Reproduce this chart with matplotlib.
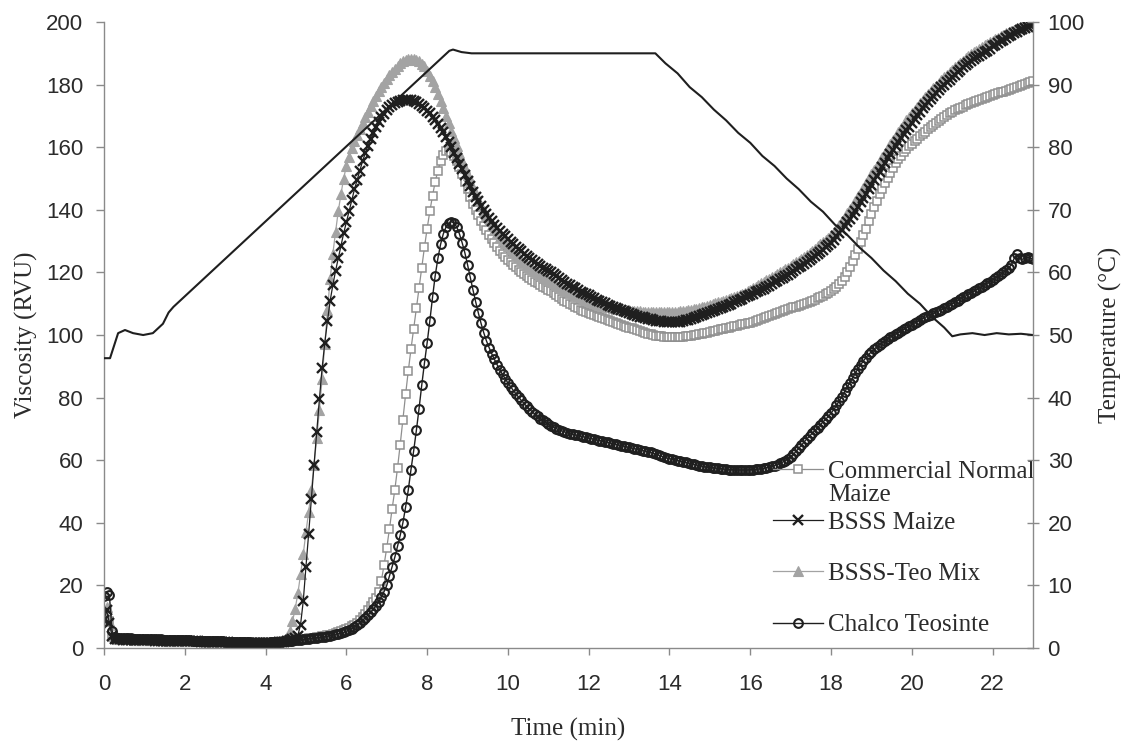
import numpy as np
import matplotlib

matplotlib.use("Agg")
import matplotlib.pyplot as plt  # noqa: E402

# RVA readings taken every 4 s over the 23 min run
time_min = np.arange(346) / 15.0

# one row per minute (15 readings), last value at 23 min
commercial = [
    10.0, 11.5, 8.5, 4.5, 3.2, 3.0, 3.0, 2.9, 2.9, 2.9, 2.8, 2.8, 2.8, 2.8, 2.7,
    2.7, 2.7, 2.7, 2.7, 2.6, 2.6, 2.6, 2.6, 2.6, 2.6, 2.5, 2.5, 2.5, 2.5, 2.5,
    2.5, 2.4, 2.4, 2.4, 2.4, 2.3, 2.3, 2.3, 2.2, 2.2, 2.2, 2.2, 2.1, 2.1, 2.1,
    2.0, 2.0, 2.0, 2.0, 1.9, 1.9, 1.9, 1.9, 1.8, 1.8, 1.8, 1.8, 1.8, 1.8, 1.8,
    1.8, 1.8, 1.9, 1.9, 1.9, 2.0, 2.0, 2.1, 2.2, 2.3, 2.4, 2.5, 2.6, 2.7, 2.8,
    3.0, 3.1, 3.2, 3.3, 3.5, 3.6, 3.8, 3.9, 4.1, 4.3, 4.5, 4.7, 5.0, 5.3, 5.6,
    6.0, 6.4, 6.9, 7.5, 8.1, 8.9, 9.8, 10.8, 12.0, 13.4, 14.8, 16.0, 17.8, 21.5, 26.5,
    32.0, 38.0, 44.5, 50.5, 57.5, 65.0, 73.0, 81.0, 88.5, 95.5, 102.0, 108.5, 115.0, 121.5, 128.0,
    134.0, 139.5, 144.5, 149.0, 152.5, 155.5, 157.5, 158.7, 159.0, 158.5, 157.3, 155.7, 153.7, 151.3, 148.8,
    146.5, 144.2, 142.0, 140.0, 138.2, 136.5, 134.9, 133.4, 132.0, 130.6, 129.3, 128.1, 127.0, 125.9, 124.9,
    124.0, 123.2, 122.4, 121.6, 120.9, 120.2, 119.5, 118.9, 118.3, 117.7, 117.1, 116.5, 116.0, 115.5, 115.0,
    114.5, 114.0, 113.4, 112.8, 112.2, 111.6, 111.0, 110.5, 110.0, 109.5, 109.0, 108.5, 108.1, 107.7, 107.3,
    106.9, 106.6, 106.3, 106.0, 105.7, 105.4, 105.1, 104.8, 104.5, 104.2, 103.9, 103.6, 103.3, 103.0, 102.7,
    102.4, 102.1, 101.8, 101.5, 101.2, 100.9, 100.6, 100.4, 100.2, 100.0, 99.8, 99.7, 99.6, 99.5, 99.4,
    99.4, 99.4, 99.4, 99.4, 99.5, 99.5, 99.6, 99.7, 99.8, 99.9, 100.0, 100.2, 100.4, 100.6, 100.8,
    101.0, 101.2, 101.4, 101.6, 101.8, 102.0, 102.2, 102.4, 102.6, 102.8, 103.0, 103.2, 103.4, 103.6, 103.8,
    104.0, 104.3, 104.6, 104.9, 105.2, 105.5, 105.8, 106.1, 106.4, 106.7, 107.0, 107.3, 107.6, 107.9, 108.2,
    108.5, 108.8, 109.1, 109.4, 109.7, 110.0, 110.3, 110.6, 110.9, 111.3, 111.7, 112.1, 112.5, 113.0, 113.5,
    114.0, 114.6, 115.3, 116.2, 117.3, 118.6, 120.1, 121.8, 123.6, 125.5, 127.5, 129.6, 131.8, 134.0, 136.3,
    138.6, 140.8, 142.9, 144.9, 146.8, 148.6, 150.3, 151.9, 153.4, 154.8, 156.1, 157.3, 158.4, 159.4, 160.3,
    161.1, 161.9, 162.7, 163.5, 164.3, 165.0, 165.7, 166.4, 167.1, 167.8, 168.4, 169.0, 169.6, 170.2, 170.8,
    171.3, 171.8, 172.2, 172.6, 173.0, 173.4, 173.8, 174.2, 174.5, 174.8, 175.1, 175.4, 175.7, 176.0, 176.3,
    176.6, 176.9, 177.2, 177.5, 177.8, 178.1, 178.4, 178.7, 179.0, 179.3, 179.6, 179.9, 180.2, 180.5, 180.8,
    181.2,
]

bsss_maize = [
    9.0, 12.0, 8.0, 3.8, 3.0, 2.8, 2.8, 2.7, 2.7, 2.7, 2.6, 2.6, 2.6, 2.6, 2.5,
    2.5, 2.5, 2.5, 2.5, 2.4, 2.4, 2.4, 2.4, 2.4, 2.3, 2.3, 2.3, 2.3, 2.3, 2.2,
    2.2, 2.2, 2.2, 2.1, 2.1, 2.1, 2.0, 2.0, 2.0, 2.0, 1.9, 1.9, 1.9, 1.8, 1.8,
    1.8, 1.8, 1.7, 1.7, 1.7, 1.6, 1.6, 1.6, 1.6, 1.5, 1.5, 1.5, 1.5, 1.5, 1.5,
    1.5, 1.5, 1.6, 1.6, 1.7, 1.8, 1.9, 2.0, 2.2, 2.5, 2.9, 3.3, 4.0, 7.5, 15.0,
    26.0, 36.5, 47.5, 58.5, 69.0, 79.5, 89.5, 97.5, 104.5, 111.0, 116.0, 120.5, 124.5, 128.5, 132.5,
    136.0, 139.5, 143.0, 146.5, 149.5, 152.5, 155.5, 158.0, 160.5, 162.5, 164.5, 166.5, 168.0, 169.5, 170.7,
    171.8, 172.7, 173.5, 174.1, 174.6, 174.9, 175.1, 175.2, 175.2, 175.0, 174.7, 174.3, 173.8, 173.2, 172.5,
    171.7, 170.8, 169.8, 168.7, 167.5, 166.2, 164.8, 163.3, 161.7, 160.0, 158.3, 156.5, 154.7, 152.9, 151.0,
    149.2, 147.5, 145.8, 144.2, 142.7, 141.3, 140.0, 138.7, 137.5, 136.4, 135.3, 134.3, 133.3, 132.4, 131.5,
    130.6, 129.8, 129.0, 128.2, 127.4, 126.7, 126.0, 125.3, 124.6, 123.9, 123.3, 122.7, 122.1, 121.5, 121.0,
    120.5, 120.0, 119.4, 118.8, 118.2, 117.6, 117.0, 116.4, 115.9, 115.4, 114.9, 114.4, 113.9, 113.5, 113.1,
    112.7, 112.2, 111.7, 111.3, 110.9, 110.5, 110.1, 109.7, 109.3, 108.9, 108.5, 108.2, 107.9, 107.6, 107.3,
    107.0, 106.7, 106.4, 106.1, 105.8, 105.6, 105.4, 105.2, 105.0, 104.8, 104.6, 104.5, 104.4, 104.3, 104.2,
    104.1, 104.1, 104.1, 104.2, 104.3, 104.5, 104.7, 104.9, 105.2, 105.5, 105.8, 106.1, 106.4, 106.7, 107.0,
    107.3, 107.6, 107.9, 108.2, 108.5, 108.8, 109.2, 109.6, 110.0, 110.4, 110.8, 111.2, 111.6, 112.0, 112.4,
    112.8, 113.2, 113.6, 114.0, 114.4, 114.8, 115.3, 115.8, 116.3, 116.8, 117.3, 117.8, 118.3, 118.8, 119.3,
    119.8, 120.4, 121.0, 121.6, 122.2, 122.8, 123.4, 124.0, 124.6, 125.2, 125.9, 126.6, 127.3, 128.0, 128.7,
    129.5, 130.5, 131.5, 132.6, 133.7, 134.8, 136.0, 137.2, 138.4, 139.7, 141.0, 142.4, 143.8, 145.2, 146.6,
    148.0, 149.4, 150.8, 152.2, 153.6, 155.0, 156.4, 157.8, 159.2, 160.5, 161.8, 163.0, 164.2, 165.4, 166.5,
    167.8, 169.0, 170.2, 171.3, 172.4, 173.5, 174.5, 175.5, 176.5, 177.4, 178.3, 179.2, 180.0, 180.8, 181.6,
    182.4, 183.2, 184.0, 184.8, 185.5, 186.2, 186.9, 187.5, 188.1, 188.7, 189.3, 189.8, 190.3, 190.8, 191.3,
    192.2, 192.8, 193.4, 193.9, 194.4, 194.9, 195.4, 195.9, 196.4, 196.9, 197.3, 197.7, 198.1, 198.5, 198.9,
    199.3,
]

bsss_teo = [
    11.0, 13.0, 8.5, 4.0, 3.2, 3.0, 2.9, 2.9, 2.8, 2.8, 2.8, 2.7, 2.7, 2.7, 2.7,
    2.6, 2.6, 2.6, 2.6, 2.5, 2.5, 2.5, 2.5, 2.4, 2.4, 2.4, 2.4, 2.3, 2.3, 2.3,
    2.3, 2.2, 2.2, 2.2, 2.2, 2.1, 2.1, 2.1, 2.0, 2.0, 2.0, 2.0, 1.9, 1.9, 1.9,
    1.9, 1.8, 1.8, 1.8, 1.8, 1.7, 1.7, 1.7, 1.7, 1.7, 1.7, 1.7, 1.7, 1.8, 1.8,
    1.8, 1.9, 1.9, 2.0, 2.1, 2.2, 2.4, 2.7, 3.5, 5.5, 8.5, 12.5, 17.5, 23.5, 30.0,
    37.0, 43.5, 50.5, 58.5, 67.0, 76.0, 86.0, 97.0, 108.0, 118.0, 126.0, 133.0, 139.5, 145.0, 150.0,
    154.0, 157.0, 159.7, 162.0, 164.0, 165.9, 167.7, 169.5, 171.3, 173.1, 174.8, 176.4, 177.9, 179.3, 180.6,
    181.8, 183.0, 184.1, 185.1, 186.0, 186.8, 187.4, 187.9, 188.2, 188.3, 188.2, 187.9, 187.4, 186.7, 185.8,
    184.5, 182.9, 181.1, 179.1, 177.0, 174.8, 172.5, 170.1, 167.7, 165.3, 162.9, 160.5, 158.1, 155.7, 153.4,
    151.2, 149.0, 146.9, 144.9, 143.0, 141.2, 139.5, 137.9, 136.4, 135.0, 133.7, 132.5, 131.4, 130.3, 129.3,
    128.3, 127.4, 126.5, 125.6, 124.8, 124.0, 123.2, 122.5, 121.8, 121.1, 120.4, 119.8, 119.2, 118.6, 118.0,
    117.5, 117.0, 116.5, 116.0, 115.5, 115.0, 114.5, 114.0, 113.6, 113.2, 112.8, 112.4, 112.0, 111.6, 111.2,
    110.8, 110.5, 110.2, 109.9, 109.6, 109.4, 109.2, 109.0, 108.8, 108.6, 108.4, 108.3, 108.2, 108.1, 108.0,
    107.9, 107.8, 107.7, 107.6, 107.6, 107.5, 107.5, 107.4, 107.4, 107.4, 107.4, 107.4, 107.4, 107.4, 107.4,
    107.4, 107.4, 107.5, 107.5, 107.6, 107.7, 107.8, 107.9, 108.0, 108.2, 108.4, 108.6, 108.8, 109.0, 109.2,
    109.5, 109.8, 110.1, 110.4, 110.7, 111.0, 111.3, 111.6, 111.9, 112.2, 112.5, 112.8, 113.1, 113.5, 114.0,
    114.5, 115.0, 115.5, 116.0, 116.5, 117.0, 117.5, 118.0, 118.5, 119.0, 119.5, 120.0, 120.5, 121.0, 121.5,
    122.0, 122.6, 123.2, 123.8, 124.4, 125.0, 125.6, 126.2, 126.9, 127.6, 128.3, 129.0, 129.7, 130.4, 131.1,
    131.8, 132.9, 134.0, 135.2, 136.4, 137.6, 138.9, 140.2, 141.5, 142.9, 144.3, 145.7, 147.1, 148.5, 149.9,
    151.3, 152.7, 154.1, 155.5, 156.9, 158.3, 159.7, 161.1, 162.4, 163.7, 165.0, 166.2, 167.4, 168.6, 169.7,
    170.8, 171.9, 173.0, 174.0, 175.0, 176.0, 177.0, 177.9, 178.8, 179.7, 180.6, 181.5, 182.3, 183.1, 183.9,
    184.7, 185.5, 186.3, 187.0, 187.7, 188.4, 189.1, 189.7, 190.3, 190.9, 191.5, 192.0, 192.5, 193.0, 193.5,
    194.0, 194.5, 195.0, 195.5, 196.0, 196.4, 196.8, 197.2, 197.6, 198.0, 198.4, 198.8, 199.2, 199.6, 200.0,
    200.4,
]

chalco = [
    16.5, 17.8, 17.0, 5.5, 3.5, 3.3, 3.2, 3.2, 3.1, 3.1, 3.1, 3.0, 3.0, 3.0, 3.0,
    2.9, 2.9, 2.9, 2.8, 2.8, 2.8, 2.8, 2.7, 2.7, 2.7, 2.7, 2.6, 2.6, 2.6, 2.6,
    2.5, 2.5, 2.5, 2.4, 2.4, 2.4, 2.3, 2.3, 2.3, 2.2, 2.2, 2.2, 2.1, 2.1, 2.1,
    2.0, 2.0, 2.0, 1.9, 1.9, 1.9, 1.8, 1.8, 1.8, 1.8, 1.7, 1.7, 1.7, 1.7, 1.7,
    1.7, 1.7, 1.8, 1.8, 1.9, 1.9, 2.0, 2.1, 2.2, 2.3, 2.4, 2.5, 2.6, 2.7, 2.8,
    2.9, 3.0, 3.1, 3.2, 3.3, 3.4, 3.5, 3.6, 3.8, 4.0, 4.2, 4.4, 4.6, 4.8, 5.0,
    5.4, 5.8, 6.2, 6.7, 7.3, 8.0, 8.8, 9.6, 10.5, 11.4, 12.4, 13.5, 14.8, 16.3, 18.0,
    20.0, 23.0, 26.0, 29.0, 32.5, 36.0, 40.0, 45.0, 50.5, 57.0, 63.0, 69.5, 76.5, 84.0, 91.0,
    97.5, 104.5, 112.0, 119.0, 124.5, 129.0, 132.3, 134.5, 135.7, 136.2, 135.8, 134.5, 132.3, 129.5, 126.3,
    122.5, 118.5, 114.5, 110.7, 107.1, 103.8, 100.8, 98.2, 96.0, 94.0, 92.2, 90.5, 88.9, 87.4, 86.0,
    84.7, 83.5, 82.3, 81.2, 80.1, 79.1, 78.1, 77.2, 76.3, 75.5, 74.7, 74.0, 73.3, 72.7, 72.1,
    71.5, 71.0, 70.5, 70.1, 69.7, 69.4, 69.1, 68.8, 68.5, 68.3, 68.1, 67.9, 67.7, 67.5, 67.3,
    67.1, 66.9, 66.7, 66.5, 66.3, 66.1, 65.9, 65.7, 65.5, 65.3, 65.1, 64.9, 64.7, 64.5, 64.3,
    64.1, 63.9, 63.7, 63.5, 63.3, 63.1, 62.9, 62.7, 62.5, 62.2, 61.9, 61.6, 61.3, 61.0, 60.7,
    60.5, 60.3, 60.1, 59.9, 59.7, 59.5, 59.3, 59.1, 58.9, 58.7, 58.5, 58.3, 58.1, 57.9, 57.8,
    57.7, 57.6, 57.5, 57.4, 57.3, 57.2, 57.1, 57.0, 57.0, 56.9, 56.9, 56.9, 56.9, 56.9, 56.9,
    57.0, 57.0, 57.1, 57.2, 57.3, 57.4, 57.6, 57.8, 58.0, 58.3, 58.6, 59.0, 59.4, 59.9, 60.5,
    61.1, 61.9, 62.8, 63.8, 64.8, 65.8, 66.8, 67.7, 68.6, 69.5, 70.4, 71.3, 72.2, 73.1, 74.0,
    75.0, 76.2, 77.5, 78.9, 80.3, 81.8, 83.3, 84.8, 86.3, 87.8, 89.2, 90.5, 91.7, 92.8, 93.8,
    94.7, 95.5, 96.2, 96.9, 97.5, 98.1, 98.7, 99.3, 99.8, 100.3, 100.8, 101.3, 101.8, 102.3, 102.8,
    103.3, 103.8, 104.3, 104.8, 105.3, 105.7, 106.1, 106.5, 106.9, 107.3, 107.7, 108.1, 108.5, 108.9, 109.5,
    110.0, 110.5, 111.0, 111.5, 112.0, 112.5, 113.0, 113.5, 114.0, 114.5, 115.0, 115.5, 116.0, 116.5, 117.0,
    117.6, 118.2, 118.8, 119.4, 120.0, 120.7, 121.5, 122.5, 124.5, 125.8, 124.6, 124.2, 124.5, 124.8, 124.6,
    124.3,
]

# temperature profile (right axis)
temp_time = [0.0, 0.15, 0.35, 0.52, 0.72, 0.97, 1.21, 1.46, 1.6, 1.72, 8.55, 8.64, 8.85, 9.1,
             13.65, 13.9, 14.2, 14.5, 14.8, 15.1, 15.4, 15.7, 16.0, 16.3, 16.6, 16.9, 17.2,
             17.5, 17.8, 18.1, 18.4, 18.7, 19.0, 19.3, 19.6, 19.9, 20.2, 20.5, 20.8, 21.0,
             21.2, 21.5, 21.8, 22.1, 22.4, 22.7, 23.0]
temp_c = [46.3, 46.3, 50.3, 50.8, 50.3, 50.0, 50.3, 51.8, 53.6, 54.5, 95.4, 95.6, 95.2, 95.0,
          95.0, 93.4, 91.8, 89.6, 88.0, 86.0, 84.3, 82.3, 80.7, 78.6, 77.0, 75.0, 73.3,
          71.3, 69.7, 67.6, 66.0, 64.0, 62.3, 60.3, 58.6, 56.6, 55.0, 52.9, 51.2, 49.8,
          50.1, 50.3, 50.0, 50.3, 50.1, 50.2, 50.0]

series_labels = ["Commercial Normal", "BSSS Maize", "BSSS-Teo Mix", "Chalco Teosinte"]
x_ticks = list(range(0, 23, 2))

assert len(commercial) == len(bsss_maize) == len(bsss_teo) == len(chalco) == len(time_min)

SERIF = ["Liberation Serif", "DejaVu Serif"]
SANS = ["Liberation Sans", "DejaVu Sans"]
TXT = "#2b2b2b"
AXC = "#8a8a8a"
LIGHT = "#a3a3a3"
MID = "#8f8f8f"
DARK = "#1f1f1f"

fig = plt.figure(figsize=(11.29, 7.44), dpi=100)
ax = fig.add_axes([0.0921, 0.129, 0.8229, 0.8414])
ax2 = ax.twinx()

l_com, = ax.plot(time_min, commercial, color=MID, lw=0.9, marker="s", ms=6,
                 mfc="white", mec=MID, mew=1.1)
l_teo, = ax.plot(time_min, bsss_teo, color=LIGHT, lw=0.9, marker="^", ms=7,
                 mfc=LIGHT, mec=LIGHT, mew=0.8)
l_bm, = ax.plot(time_min, bsss_maize, color=DARK, lw=0.9, marker="x", ms=6.5,
                mec=DARK, mew=1.7)
l_ch, = ax.plot(time_min, chalco, color=DARK, lw=1.0, marker="o", ms=6.3,
                mfc="none", mec=DARK, mew=1.5)

ax2.plot(temp_time, temp_c, color=DARK, lw=1.5)

ax.set_xlim(0, 23)
ax.set_ylim(0, 200)
ax2.set_ylim(0, 100)
ax.set_xticks(x_ticks)
ax.set_yticks(range(0, 201, 20))
ax2.set_yticks(range(0, 101, 10))

for a in (ax, ax2):
    a.spines["top"].set_visible(False)
    for s in ("left", "right", "bottom"):
        a.spines[s].set_color(AXC)
        a.spines[s].set_linewidth(1.0)
ax.spines["right"].set_visible(False)
ax2.spines["left"].set_visible(False)
ax2.spines["bottom"].set_visible(False)

ax.tick_params(axis="x", direction="out", length=5, width=1, color=AXC, pad=14,
               labelsize=16, labelcolor=TXT)
ax.tick_params(axis="y", direction="out", length=6, width=1, color=AXC, pad=9,
               labelsize=16, labelcolor=TXT)
ax2.tick_params(axis="y", direction="inout", length=9, width=1, color=AXC, pad=6,
                labelsize=16, labelcolor=TXT)
for lab in ax.get_xticklabels() + ax.get_yticklabels() + ax2.get_yticklabels():
    lab.set_family(SANS)

ax.set_xlabel("Time (min)", family=SERIF, fontsize=18, color=TXT, labelpad=16)
ax.set_ylabel("Viscosity (RVU)", family=SERIF, fontsize=18, color=TXT, labelpad=6)
ax2.set_ylabel("Temperature (°C)", family=SERIF, fontsize=18, color=TXT, labelpad=10)

leg = ax.legend([l_com, l_bm, l_teo, l_ch], series_labels, loc="upper left",
                bbox_to_anchor=(0.72, 0.30), frameon=False, borderaxespad=0, borderpad=0,
                handlelength=2.0, handletextpad=0.2, labelspacing=1.15,
                prop={"family": SERIF, "size": 18}, labelcolor=TXT)

# second line of the first legend label, tucked under it as in the original
fig.canvas.draw()
first = leg.get_texts()[0].get_window_extent()
fig.text(first.x0 / fig.bbox.width, (first.y0 - 1) / fig.bbox.height, "Maize",
         family=SERIF, fontsize=18, color=TXT, va="top", ha="left")

fig.savefig("out.png", dpi=100, facecolor="white")
